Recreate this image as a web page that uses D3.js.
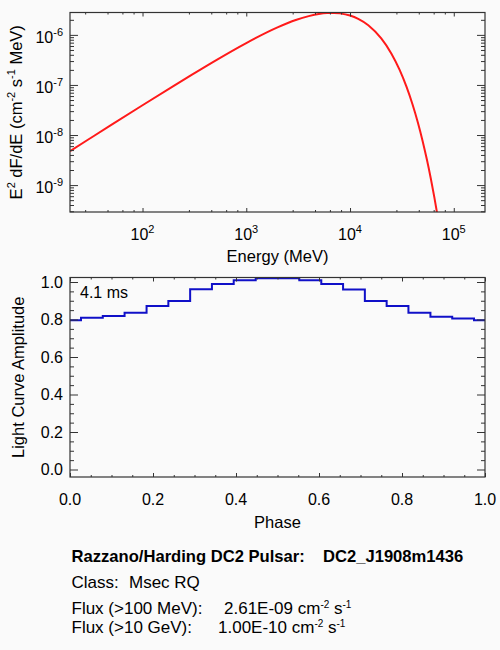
<!DOCTYPE html>
<html>
<head>
<meta charset="utf-8">
<script src="https://cdn.jsdelivr.net/npm/d3@7"></script>
<style>
    html, body { margin: 0; padding: 0; background: #fafafa; }
    svg { display: block; font-family: "Liberation Sans", Arial, Helvetica, sans-serif; }
    text { fill: #000; white-space: pre; }
</style>
</head>
<body>
<svg id="chart" width="500" height="650"></svg>
<script>
(function () {
    'use strict';

    // ── Data ──────────────────────────────────────────────────

    // top panel: E^2 dF/dE spectrum
    const energyMeV = [20, 30, 50, 100, 200, 300, 500, 1000, 2000, 3000, 4000, 5000, 6000, 7000, 8000,
                       10000, 12000, 15000, 20000, 25000, 30000, 35000, 40000, 45000, 50000, 55000, 60000, 65000, 70000];
    const e2dfde    = [4.77e-9, 8.13e-9, 1.59e-8, 3.93e-8, 9.62e-8, 1.61e-7, 3.04e-7, 6.88e-7, 1.41e-6, 1.98e-6,
                       2.37e-6, 2.62e-6, 2.73e-6, 2.75e-6, 2.69e-6, 2.44e-6, 2.09e-6, 1.56e-6, 8.49e-7, 4.26e-7,
                       2.02e-7, 9.25e-8, 4.12e-8, 1.80e-8, 7.72e-9, 3.27e-9, 1.37e-9, 5.68e-10, 2.34e-10];

    // bottom panel: light curve (bin centres)
    const phase     = [0.000, 0.053, 0.105, 0.158, 0.211, 0.263, 0.316, 0.368, 0.421, 0.474,
                       0.526, 0.579, 0.632, 0.684, 0.737, 0.789, 0.842, 0.895, 0.947, 1.000];
    const amplitude = [0.796, 0.810, 0.819, 0.836, 0.872, 0.899, 0.962, 0.989, 1.010, 1.020,
                       1.020, 1.010, 0.989, 0.960, 0.899, 0.872, 0.836, 0.815, 0.806, 0.796];

    // tick labels
    const specXTicks = [1e2, 1e3, 1e4, 1e5];
    const specYTicks = [1e-9, 1e-8, 1e-7, 1e-6];
    const lcTicks    = [0, 0.2, 0.4, 0.6, 0.8, 1.0];

    const periodLabel = '4.1 ms';
    const infoTitle   = ['Razzano/Harding DC2 Pulsar:', 'DC2_J1908m1436'];
    const infoClass   = ['Class:', 'Msec RQ'];
    const infoFlux    = [
        ['Flux (>100 MeV):', '2.61E-09'],
        ['Flux (>10 GeV):',  '1.00E-10']
    ];

    // ── Layout ────────────────────────────────────────────────

    const LEFT = 70, RIGHT = 485;
    const SPEC = { top: 12.5, bottom: 212 };
    const LC   = { top: 277.5, bottom: 477 };
    const AXIS_COLOR = '#333';
    const FS = 16;

    const svg = d3.select('#chart');

    // ── Scales ────────────────────────────────────────────────

    const xE = d3.scaleLog().domain([20, 2e5]).range([LEFT, RIGHT]);
    const yE = d3.scaleLog().domain([2.9e-10, 2.8e-6]).range([SPEC.bottom, SPEC.top]);
    const xP = d3.scaleLinear().domain([0, 1]).range([LEFT, RIGHT]);
    const yA = d3.scaleLinear().domain([-0.04, 1.024]).range([LC.bottom, LC.top]);

    // IDL-ish minor ticks
    const xEMinor = [];
    [10, 100, 1000, 10000, 100000].forEach(d => [2.8, 4.6, 6.4, 8.2].forEach(m => {
        const v = d * m;
        if (v > 20 && v < 2e5) xEMinor.push(v);
    }));
    const yEMinor = [];
    [1e-10, 1e-9, 1e-8, 1e-7, 1e-6].forEach(d => d3.range(2, 10).forEach(m => {
        const v = d * m;
        if (v > 2.9e-10 && v < 2.8e-6) yEMinor.push(v);
    }));
    const lcMinor = d3.range(0, 21).map(i => i * 0.05).filter(v => lcTicks.every(t => Math.abs(t - v) > 1e-6));
    const lcYMinor = lcMinor.filter(v => v < 1.024);

    // ── Frame + ticks on all four sides ───────────────────────

    function frame(x, y, box, xMaj, xMin, yMaj, yMin) {
        const g = svg.append('g');
        const sides = [
            { axis: d3.axisBottom, s: x, t: `translate(0,${box.bottom})`, maj: xMaj, min: xMin, len: 4, mlen: 2 },
            { axis: d3.axisTop,    s: x, t: `translate(0,${box.top})`,    maj: xMaj, min: xMin, len: 4, mlen: 2 },
            { axis: d3.axisLeft,   s: y, t: `translate(${LEFT},0)`,       maj: yMaj, min: yMin, len: 8, mlen: 4 },
            { axis: d3.axisRight,  s: y, t: `translate(${RIGHT},0)`,      maj: yMaj, min: yMin, len: 8, mlen: 4 }
        ];
        sides.forEach(sd => {
            [[sd.maj, sd.len], [sd.min, sd.mlen]].forEach(([vals, len]) => {
                const a = g.append('g')
                    .attr('transform', sd.t)
                    .call(sd.axis(sd.s).tickValues(vals).tickSize(-len).tickFormat(''));
                a.select('.domain').remove();
                a.selectAll('line').attr('stroke', AXIS_COLOR).attr('stroke-width', 1);
            });
        });
        g.append('rect')
            .attr('x', LEFT)
            .attr('y', box.top)
            .attr('width', RIGHT - LEFT)
            .attr('height', box.bottom - box.top)
            .attr('fill', 'none')
            .attr('stroke', AXIS_COLOR)
            .attr('stroke-width', 1.2);
    }

    // power-of-ten label: "10" + superscript exponent
    function powLabel(sel, exp) {
        sel.append('tspan').text('10');
        sel.append('tspan')
            .attr('dy', -7)
            .attr('font-size', '11px')
            .text(exp);
    }

    // ── Top panel: spectrum ──────────────────────────────────

    svg.append('defs').append('clipPath')
        .attr('id', 'clip-spec')
        .append('rect')
        .attr('x', LEFT)
        .attr('y', SPEC.top)
        .attr('width', RIGHT - LEFT)
        .attr('height', SPEC.bottom - SPEC.top);

    svg.append('path')
        .datum(d3.zip(energyMeV, e2dfde))
        .attr('clip-path', 'url(#clip-spec)')
        .attr('fill', 'none')
        .attr('stroke', '#ff1a1a')
        .attr('stroke-width', 2)
        .attr('d', d3.line()
            .x(d => xE(d[0]))
            .y(d => yE(d[1]))
            .curve(d3.curveMonotoneX));

    frame(xE, yE, SPEC, specXTicks, xEMinor, specYTicks, yEMinor);

    svg.append('g').selectAll('text')
        .data(specXTicks)
        .join('text')
        .attr('x', d => xE(d))
        .attr('y', SPEC.bottom + 28)
        .attr('text-anchor', 'middle')
        .attr('font-size', FS + 'px')
        .each(function (d) { powLabel(d3.select(this), String(Math.round(Math.log10(d)))); });

    svg.append('g').selectAll('text')
        .data(specYTicks)
        .join('text')
        .attr('x', 63)
        .attr('y', d => yE(d) + 8)
        .attr('text-anchor', 'end')
        .attr('font-size', FS + 'px')
        .each(function (d) { powLabel(d3.select(this), String(Math.round(Math.log10(d)))); });

    svg.append('text')
        .attr('x', (LEFT + RIGHT) / 2)
        .attr('y', 262)
        .attr('text-anchor', 'middle')
        .attr('font-size', '16.5px')
        .text('Energy (MeV)');

    const yl = svg.append('text')
        .attr('transform', `translate(22,${(SPEC.top + SPEC.bottom) / 2}) rotate(-90)`)
        .attr('text-anchor', 'middle')
        .attr('font-size', '16.5px');
    [['E', 0], ['2', -7], [' dF/dE (cm', 7], ['-2', -7], [' s', 7], ['-1', -7], [' MeV)', 7]].forEach(([t, dy], i) => {
        const sup = dy < 0;
        yl.append('tspan')
            .attr('dy', i === 0 ? null : dy)
            .attr('font-size', sup ? '11px' : null)
            .text(t);
    });

    // ── Bottom panel: light curve ────────────────────────────

    svg.append('path')
        .datum(d3.zip(phase, amplitude))
        .attr('fill', 'none')
        .attr('stroke', '#1010c8')
        .attr('stroke-width', 2)
        .attr('d', d3.line()
            .x(d => xP(d[0]))
            .y(d => yA(d[1]))
            .curve(d3.curveStep));

    frame(xP, yA, LC, lcTicks, lcMinor, lcTicks, lcYMinor);

    svg.append('g').selectAll('text')
        .data(lcTicks)
        .join('text')
        .attr('x', d => xP(d))
        .attr('y', LC.bottom + 28)
        .attr('text-anchor', 'middle')
        .attr('font-size', FS + 'px')
        .text(d3.format('.1f'));

    svg.append('g').selectAll('text')
        .data(lcTicks)
        .join('text')
        .attr('x', 63)
        .attr('y', d => yA(d) + 5.5)
        .attr('text-anchor', 'end')
        .attr('font-size', FS + 'px')
        .text(d3.format('.1f'));

    svg.append('text')
        .attr('x', (LEFT + RIGHT) / 2)
        .attr('y', 528)
        .attr('text-anchor', 'middle')
        .attr('font-size', '16.5px')
        .text('Phase');

    svg.append('text')
        .attr('transform', `translate(24,${(LC.top + LC.bottom) / 2}) rotate(-90)`)
        .attr('text-anchor', 'middle')
        .attr('font-size', '16.5px')
        .text('Light Curve Amplitude');

    svg.append('text')
        .attr('x', 80)
        .attr('y', 297.5)
        .attr('font-size', FS + 'px')
        .text(periodLabel);

    // ── Info block ───────────────────────────────────────────

    const info = svg.append('g').attr('font-size', '17px');

    const t1 = info.append('text').attr('y', 562).attr('font-weight', 'bold').attr('font-size', '16.6px');
    t1.append('tspan').attr('x', 71.5).text(infoTitle[0]);
    t1.append('tspan').attr('x', 323).text(infoTitle[1]);

    const t2 = info.append('text').attr('y', 588);
    t2.append('tspan').attr('x', 71.5).text(infoClass[0]);
    t2.append('tspan').attr('x', 129).text(infoClass[1]);

    [[613.5, 224], [633, 218]].forEach(([y, vx], i) => {
        const t = info.append('text').attr('y', y);
        t.append('tspan').attr('x', 71.5).text(infoFlux[i][0]);
        t.append('tspan').attr('x', vx).text(infoFlux[i][1] + ' cm');
        t.append('tspan').attr('dy', -6).attr('font-size', '10px').text('-2');
        t.append('tspan').attr('dy', 6).text(' s');
        t.append('tspan').attr('dy', -6).attr('font-size', '10px').text('-1');
    });

})();
</script>
</body>
</html>
